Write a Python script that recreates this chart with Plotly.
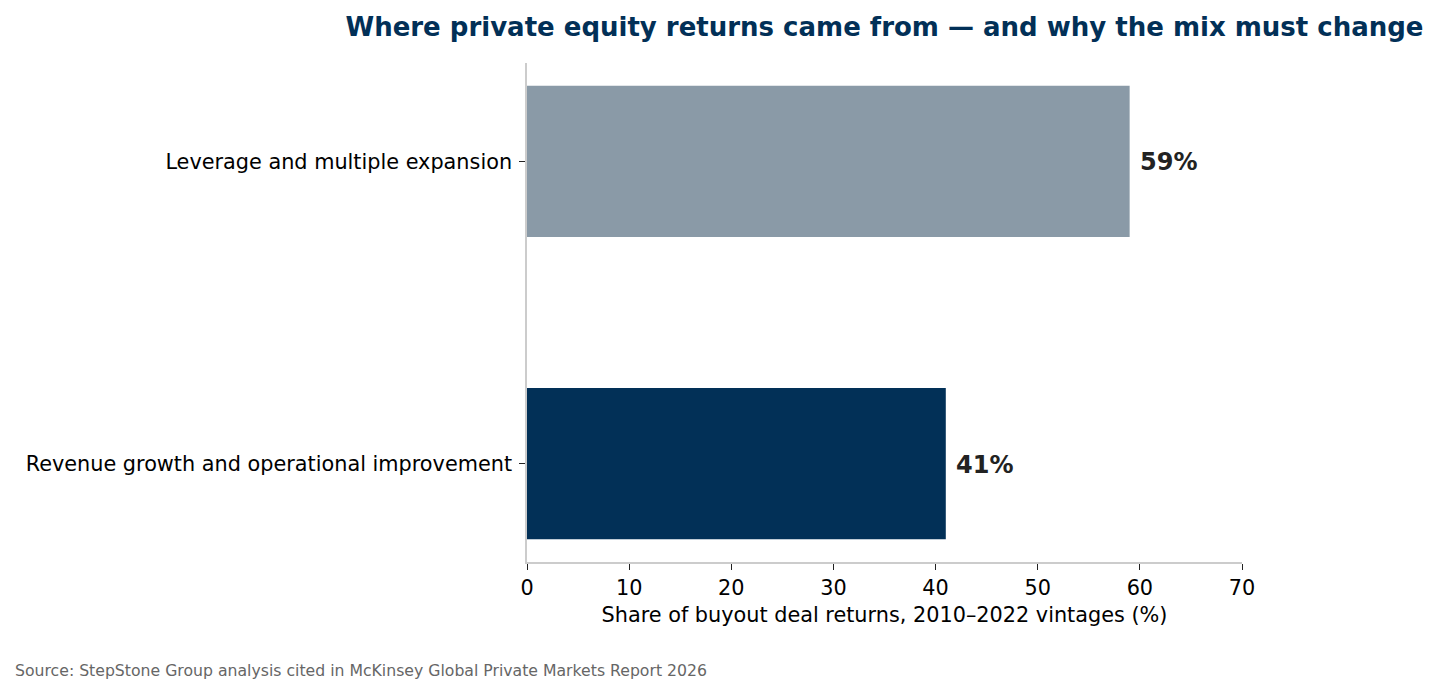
import plotly.graph_objects as go

categories = ["Revenue growth and operational improvement", "Leverage and multiple expansion"]
values = [41, 59]
colors = ["#023057", "#8a9aa7"]
x_ticks = [0, 10, 20, 30, 40, 50, 60, 70]

fig = go.Figure()
fig.add_trace(go.Bar(
    x=values, y=categories, orientation="h",
    marker=dict(color=colors, line=dict(width=0)),
    width=0.5, hoverinfo="skip",
))

for c, v in zip(categories, values):
    fig.add_annotation(x=v, y=c, text=f"<b>{v}%</b>", showarrow=False,
                       xanchor="left", yanchor="middle", xshift=8, yshift=-1,
                       font=dict(family="DejaVu Sans", size=24, color="#222222"))

fig.update_layout(
    width=1436, height=693,
    margin=dict(l=527, r=194, t=63, b=131),
    paper_bgcolor="white", plot_bgcolor="white",
    showlegend=False,
    font=dict(family="DejaVu Sans", color="black"),
    title=dict(text="<b>Where private equity returns came from — and why the mix must change</b>",
               x=(527 + 1242) / 2 / 1436, xanchor="center", y=1 - 27 / 693, yanchor="middle",
               font=dict(family="DejaVu Sans", size=26, color="#023057")),
    xaxis=dict(range=[0, 70], tickvals=x_ticks, ticktext=[str(t) for t in x_ticks],
               showgrid=False, zeroline=False, showline=True, linecolor="#cccccc", linewidth=1.5,
               ticks="outside", ticklen=6, tickcolor="#222222", tickwidth=1,
               tickfont=dict(size=20.8, color="black"),
               title=dict(text="Share of buyout deal returns, 2010–2022 vintages (%)",
                          font=dict(size=20.8, color="black"), standoff=9)),
    yaxis=dict(type="category", range=[-0.325, 1.325],
               showgrid=False, zeroline=False, showline=True, linecolor="#cccccc", linewidth=1.5,
               ticks="outside", ticklen=6, tickcolor="#222222", tickwidth=1,
               ticklabelstandoff=3,
               tickfont=dict(size=20.8, color="black")),
)

fig.add_annotation(text="Source: StepStone Group analysis cited in McKinsey Global Private Markets Report 2026",
                   xref="paper", yref="paper", x=(13 - 527) / 715, y=-(671 - 562) / 499,
                   xanchor="left", yanchor="middle", showarrow=False,
                   font=dict(family="DejaVu Sans", size=15.7, color="#666666"))

fig.write_html("out.html")
